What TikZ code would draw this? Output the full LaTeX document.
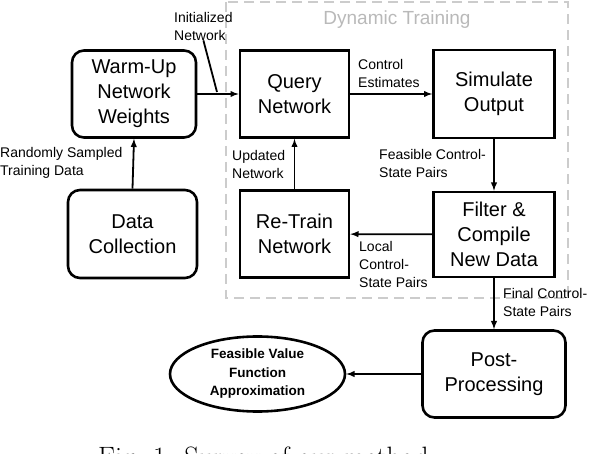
\documentclass[tikz,border=0pt]{standalone}
\usepackage{fontspec}
\setsansfont{Liberation Sans}
\usetikzlibrary{shapes.geometric,arrows,positioning}

\begin{document}
\begin{tikzpicture}[x=1pt,y=-1pt,>=latex]
\tikzstyle{block}=[rectangle,line width=2.6pt,draw=black,align=center,
inner sep=0pt,minimum width=109pt,minimum height=87pt,
font=\sffamily\fontsize{20}{25}\selectfont]
\tikzstyle{rblock}=[block,rounded corners=12pt]
\tikzstyle{lbl}=[anchor=west,align=left,inner sep=0pt,
font=\sffamily\fontsize{14}{18}\selectfont]
\tikzstyle{flow}=[->,line width=1.8pt]
\useasboundingbox (0,0) rectangle (592,454);

% dynamic training region
\draw[gray!40,line width=2.6pt,dash pattern=on 10pt off 6pt] (226,2) rectangle (568,298);
\node[inner sep=0pt,text=gray!55,font=\sffamily\fontsize{19}{22}\selectfont] (dyn) at (397,20) {Dynamic Training};

\node[rblock,minimum width=124pt] at (134,94) (warm) {Warm-Up\\Network\\Weights};
\node[rblock,minimum width=129pt,minimum height=88pt] at (132.5,234) (data) {Data\\Collection};
\node[block] at (294.5,94) (query) {Query\\Network};
\node[block,minimum width=121pt,minimum height=88pt] at (494,94) (sim) {Simulate\\Output};
\node[block,minimum width=121pt,minimum height=85pt] at (494,234.5) (filter) {Filter \&\\Compile\\New Data};
\node[block] at (294.5,234) (retrain) {Re-Train\\Network};
\node[rblock,minimum width=143pt] at (494,374) (post) {Post-\\Processing};
\node[ellipse,draw=black,line width=2.6pt,minimum width=175pt,minimum height=75pt,
inner sep=0pt,align=center,font=\sffamily\bfseries\fontsize{13.5}{18.5}\selectfont]
at (257.5,374) (vfa) {Feasible Value\\Function\\Approximation};

% labels
\node[lbl] at (174,26) (initlbl) {Initialized\\Network};
\node[lbl] at (0,163) (randlbl) {Randomly Sampled\\Training Data};
\node[lbl] at (358,73) (ctrllbl) {Control\\Estimates};
\node[lbl] at (232,164) (updlbl) {Updated\\Network};
\node[lbl] at (379,163) (feaslbl) {Feasible Control-\\State Pairs};
\node[lbl] at (359,264) (locallbl) {Local\\Control-\\State Pairs};
\node[lbl] at (503,302) (finallbl) {Final Control-\\State Pairs};

\coordinate (initpt) at (217,92);

\path[flow] (data.north) edge (warm.south);
\path[flow] (warm) edge (query);
\path[flow] (query) edge (sim);
\path[flow] (sim) edge (filter);
\path[flow] (filter) edge (retrain);
\path[flow] (retrain) edge (query);
\path[flow] (filter) edge (post);
\path[flow] (post) edge (vfa);
\draw[line width=1.8pt] (initlbl.south) -- (initpt);

% caption
\node[anchor=base west,inner sep=0pt,font=\rmfamily\fontsize{28}{30}\selectfont]
at (98,466) (cap) {Fig. 1: Survey of our method.};

\end{tikzpicture}
\end{document}
